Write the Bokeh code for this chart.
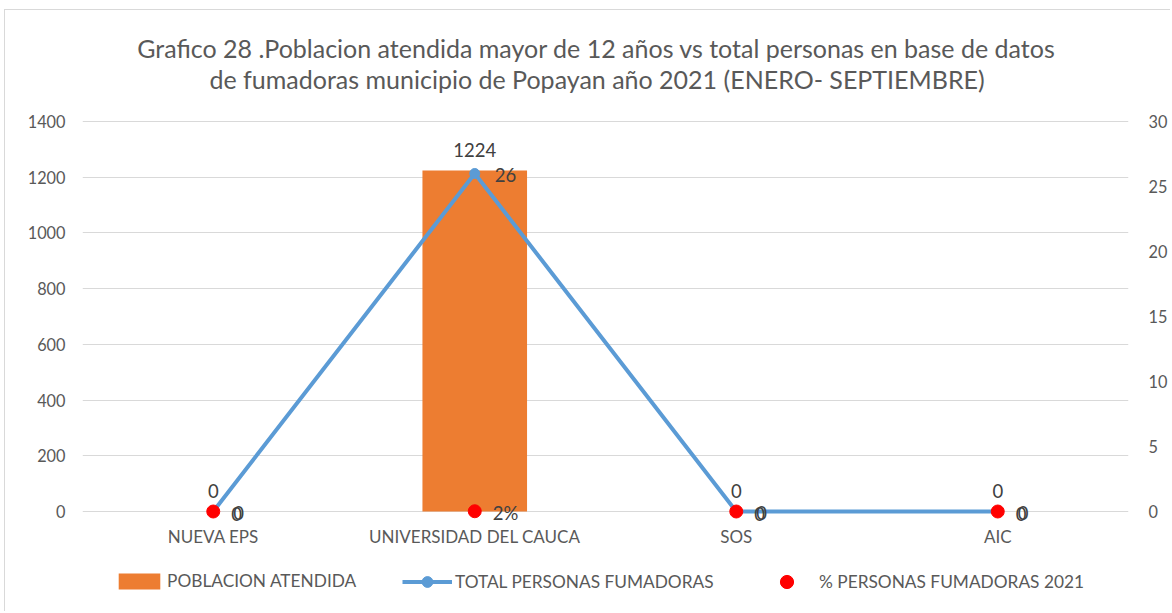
from bokeh.plotting import figure
from bokeh.layouts import column
from bokeh.models import (Range1d, LinearAxis, FixedTicker, ColumnDataSource, Label,
                          Legend, LegendItem)
from bokeh.embed import file_html
from bokeh.resources import INLINE
from bokeh.core.properties import value

categories = ["NUEVA EPS", "UNIVERSIDAD DEL CAUCA", "SOS", "AIC"]
poblacion_atendida = [0, 1224, 0, 0]
total_fumadoras = [0, 26, 0, 0]
pct_fumadoras = [0, 0.02, 0, 0]
pct_labels = ["0", "2%", "0", "0"]
left_ticks = [0, 200, 400, 600, 800, 1000, 1200, 1400]
right_ticks = [0, 5, 10, 15, 20, 25, 30]
title_lines = ["Grafico 28 .Poblacion atendida mayor de 12 años vs total personas en base de datos",
               "de fumadoras municipio de Popayan  año  2021 (ENERO- SEPTIEMBRE)"]
legend_labels = ["POBLACION ATENDIDA", "TOTAL PERSONAS FUMADORAS", "% PERSONAS FUMADORAS 2021"]

FONT = "Lato"
GRAY = "#595959"
DARK = "#404040"
ORANGE = "#ED7D31"
BLUE = "#5B9BD5"
RED = "#FF0000"

# ---- layout geometry (page pixels) ----
OX, OY = 5, 10                 # chart-area border offset (left / top)
W = 1165
A_H = 550                      # chart figure height
B_H = 51                       # legend strip height
FR_L, FR_R = 82, 1130          # plot frame left / right (page px)
Y_TOP_PX, Y0_PX, FR_B = 121, 511, 523   # page px of 1400, of 0, frame bottom
K = (Y0_PX - Y_TOP_PX) / 1400.0
y_hi = 1400 + (Y_TOP_PX - OY) / K       # frame reaches the figure top
y_lo = -(FR_B - Y0_PX) / K
SEC = 30 / 1400.0

src = ColumnDataSource(dict(
    cat=categories,
    bar=poblacion_atendida,
    bar_lbl=[str(v) for v in poblacion_atendida],
    line=total_fumadoras,
    line_lbl=[str(v) for v in total_fumadoras],
    pct=pct_fumadoras,
    pct_lbl=pct_labels,
))

p = figure(x_range=categories, y_range=Range1d(y_lo, y_hi), width=W, height=A_H,
           output_backend="svg", toolbar_location=None,
           min_border_left=FR_L - OX, min_border_right=W - (FR_R - OX), min_border_top=0,
           min_border_bottom=A_H - (FR_B - OY))
p.extra_y_ranges = {"sec": Range1d(y_lo * SEC, y_hi * SEC)}
p.outline_line_color = None
p.xgrid.grid_line_color = None
p.ygrid.grid_line_color = "#d9d9d9"
p.ygrid.ticker = FixedTicker(ticks=left_ticks)

ax = p.yaxis[0]
ax.ticker = FixedTicker(ticks=left_ticks)
rax = LinearAxis(y_range_name="sec", ticker=FixedTicker(ticks=right_ticks))
p.add_layout(rax, "right")
for a, so in ((ax, 17), (rax, 20)):
    a.axis_line_color = None
    a.major_tick_line_color = None
    a.minor_tick_line_color = None
    a.major_tick_out = 0
    a.major_label_standoff = so
    a.major_label_text_font = FONT
    a.major_label_text_font_size = "16.3px"
    a.major_label_text_color = GRAY

xa = p.xaxis[0]
xa.axis_line_color = None
xa.major_tick_line_color = None
xa.major_tick_out = 0
xa.major_label_standoff = 2
xa.major_label_text_font = FONT
xa.major_label_text_font_size = "17px"
xa.major_label_text_color = GRAY

p.vbar(x="cat", top="bar", width=0.4, source=src, fill_color=ORANGE, line_color=None)
p.line(x="cat", y="line", source=src, y_range_name="sec", line_color=BLUE, line_width=4)
p.scatter(x="cat", y="line", source=src, y_range_name="sec", size=10,
          fill_color=BLUE, line_color=BLUE)
p.scatter(x="cat", y="pct", source=src, y_range_name="sec", size=13,
          fill_color=RED, line_color=RED)

LBL_FS = "18.5px"
p.text(x="cat", y="bar", text="bar_lbl", source=src, text_align="center",
       text_baseline="middle", y_offset=-21, text_font=value(FONT),
       text_font_size=LBL_FS, text_color=DARK)
p.text(x="cat", y="line", text="line_lbl", source=src, y_range_name="sec",
       text_align="left", text_baseline="middle", x_offset=20, y_offset=1,
       text_font=value(FONT), text_font_size=LBL_FS, text_color=DARK)
p.text(x="cat", y="pct", text="pct_lbl", source=src, y_range_name="sec",
       text_align="left", text_baseline="middle", x_offset=18, y_offset=2,
       text_font=value(FONT), text_font_size=LBL_FS, text_color=DARK)

# title lines, placed in data space above the value area (frame reaches figure top)
n_cat = len(categories)
step = (FR_R - FR_L) / n_cat
for t, ypx, cx in zip(title_lines, (47, 78), (597, 604)):
    p.add_layout(Label(x=n_cat / 2 + (cx - (FR_L + FR_R) / 2) / step,
                       y=1400 + (Y_TOP_PX - ypx) / K, text=t,
                       text_align="center", text_baseline="middle", text_font=FONT,
                       text_font_size="25px", text_color=GRAY))

# ---- legend strip (its frame is aligned with the chart frame by the column) ----
q = figure(width=W, height=B_H, x_range=categories, y_range=Range1d(1e6, 1e6 + 1),
           x_axis_type=None, y_axis_type=None, output_backend="svg",
           toolbar_location=None, min_border=0)
q.outline_line_color = None
q.xgrid.visible = False
q.ygrid.visible = False
# legend proxies: same data, but outside this strip's visible range
r_bar = q.vbar(x="cat", top="bar", width=0.4, source=src, fill_color=ORANGE, line_color=None)
r_ln = q.line(x="cat", y="line", source=src, line_color=BLUE, line_width=4)
r_mk = q.scatter(x="cat", y="line", source=src, size=10, fill_color=BLUE, line_color=BLUE)
r_dot = q.scatter(x="cat", y="pct", source=src, size=13, fill_color=RED, line_color=RED)

LEG_CY = 581 - (OY + A_H)  # legend row centre, from the strip top
specs = [  # renderers, glyph w, glyph h, standoff, glyph-box left (page px)
    ([r_bar], 52, 20, 2, 113),
    ([r_ln, r_mk], 50, 27, 3, 402),
    ([r_dot], 33, 33, 16, 770),
]
for lab, (rs, gw, gh, so, x0) in zip(legend_labels, specs):
    lg = Legend(items=[LegendItem(label=lab, renderers=rs)], orientation="horizontal",
                location=(x0 - FR_L, B_H - LEG_CY - gh / 2))
    lg.border_line_color = None
    lg.background_fill_alpha = 0
    lg.padding = 0
    lg.margin = 0
    lg.glyph_width = gw
    lg.glyph_height = gh
    lg.label_height = gh
    lg.label_standoff = so
    lg.label_text_font = FONT
    lg.label_text_font_size = "17.3px"
    lg.label_text_color = GRAY
    q.add_layout(lg, "center")

layout = column(p, q, spacing=0,
                styles={"margin-left": f"{OX - 1}px", "margin-top": f"{OY - 1}px",
                        "border-left": "1px solid #d9d9d9",
                        "border-top": "1px solid #d9d9d9"})
open("out.html", "w").write(file_html(layout, INLINE))
